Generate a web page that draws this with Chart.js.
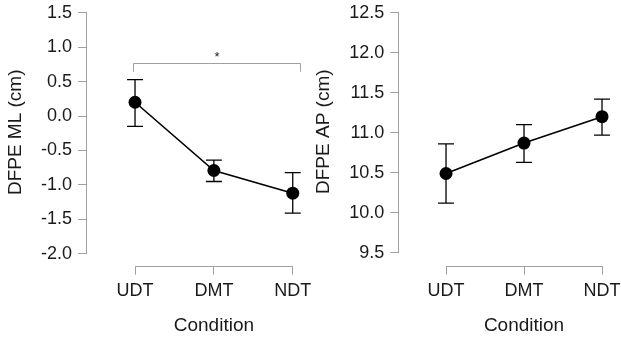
<!DOCTYPE html>
<html>
<head>
<meta charset="utf-8">
<script src="https://cdn.jsdelivr.net/npm/chart.js@4"></script>
<style>
    html, body { margin: 0; padding: 0; background: #fff; }
    #wrap { position: relative; width: 621px; height: 341px; overflow: hidden; }
    .panel { position: absolute; top: 0; height: 341px; }
    #panel-ml { left: 0; width: 330px; }
    #panel-ap { left: 300px; width: 341px; }
</style>
</head>
<body>
<div id="wrap">
    <div class="panel" id="panel-ml"><canvas id="chart-ml"></canvas></div>
    <div class="panel" id="panel-ap"><canvas id="chart-ap"></canvas></div>
</div>
<script>
const conditions = ['UDT', 'DMT', 'NDT'];

const mlMean = [0.20, -0.79, -1.12];
const mlUpper = [0.53, -0.64, -0.82];
const mlLower = [-0.15, -0.95, -1.41];
const mlTicks = [-2.0, -1.5, -1.0, -0.5, 0.0, 0.5, 1.0, 1.5];

const apMean = [10.49, 10.87, 11.20];
const apUpper = [10.86, 11.10, 11.42];
const apLower = [10.12, 10.63, 10.97];
const apTicks = [9.5, 10.0, 10.5, 11.0, 11.5, 12.0, 12.5];

// significance bracket UDT vs NDT
const mlBracket = { from: 0.98, to: 3.09, top: 0.765, end: 0.645, text: '*' };

const axisGray = '#a0a0a0';
const textColor = '#1a1a1a';
const fontFamily = "'Liberation Sans', Arial, sans-serif";

const errorBars = {
    id: 'errorBars',
    beforeDatasetsDraw(chart, args, opts) {
        const { ctx, scales: { x, y } } = chart;
        ctx.save();
        ctx.strokeStyle = '#000';
        ctx.lineWidth = 1.3;
        opts.upper.forEach((hi, i) => {
            const px = x.getPixelForValue(i + 1);
            const top = y.getPixelForValue(hi);
            const bottom = y.getPixelForValue(opts.lower[i]);
            ctx.beginPath();
            ctx.moveTo(px, top);
            ctx.lineTo(px, bottom);
            ctx.moveTo(px - 8, top);
            ctx.lineTo(px + 8, top);
            ctx.moveTo(px - 8, bottom);
            ctx.lineTo(px + 8, bottom);
            ctx.stroke();
        });
        ctx.restore();
    }
};

// axis lines only span first..last tick, titles centred on that span
const axisDecor = {
    id: 'axisDecor',
    afterDraw(chart, args, opts) {
        const { ctx, chartArea, scales: { x, y } } = chart;
        const xa = Math.round(chartArea.left) - 0.5;
        const ya = Math.round(chartArea.bottom) + 0.5;
        const yFirst = y.getPixelForValue(y.ticks[0].value);
        const yLast = y.getPixelForValue(y.ticks[y.ticks.length - 1].value);
        const xFirst = x.getPixelForValue(x.ticks[0].value);
        const xLast = x.getPixelForValue(x.ticks[x.ticks.length - 1].value);
        ctx.save();
        ctx.strokeStyle = axisGray;
        ctx.lineWidth = 1;
        ctx.beginPath();
        ctx.moveTo(xa, yFirst);
        ctx.lineTo(xa, yLast);
        ctx.moveTo(xFirst, ya);
        ctx.lineTo(xLast, ya);
        ctx.stroke();

        ctx.fillStyle = textColor;
        ctx.font = `19px ${fontFamily}`;
        ctx.textAlign = 'center';
        ctx.textBaseline = 'middle';
        ctx.fillText(opts.xTitle, (xFirst + xLast) / 2, opts.xTitleY);
        ctx.translate(opts.yTitleX, (yFirst + yLast) / 2 - 1);
        ctx.rotate(-Math.PI / 2);
        ctx.fillText(opts.yTitle, 0, 0);
        ctx.restore();
    }
};

const bracket = {
    id: 'bracket',
    afterDatasetsDraw(chart, args, opts) {
        const { ctx, scales: { x, y } } = chart;
        const x1 = Math.round(x.getPixelForValue(opts.from)) + 0.5;
        const x2 = Math.round(x.getPixelForValue(opts.to)) + 0.5;
        const yTop = Math.round(y.getPixelForValue(opts.top)) + 0.5;
        const yEnd = y.getPixelForValue(opts.end);
        ctx.save();
        ctx.strokeStyle = axisGray;
        ctx.lineWidth = 1;
        ctx.beginPath();
        ctx.moveTo(x1, yEnd);
        ctx.lineTo(x1, yTop);
        ctx.lineTo(x2, yTop);
        ctx.lineTo(x2, yEnd);
        ctx.stroke();
        ctx.fillStyle = textColor;
        ctx.font = `13px ${fontFamily}`;
        ctx.textAlign = 'center';
        ctx.textBaseline = 'alphabetic';
        ctx.fillText(opts.text, (x1 + x2) / 2, yTop - 3);
        ctx.restore();
    }
};

function buildChart(canvasId, cfg) {
    return new Chart(document.getElementById(canvasId), {
        type: 'line',
        data: {
            datasets: [{
                data: cfg.mean.map((m, i) => ({ x: i + 1, y: m })),
                borderColor: '#000',
                borderWidth: 1.6,
                backgroundColor: '#000',
                pointRadius: 6.5,
                pointBorderWidth: 0,
                pointBackgroundColor: '#000',
                tension: 0
            }]
        },
        options: {
            responsive: true,
            maintainAspectRatio: false,
            animation: false,
            events: [],
            layout: { padding: { top: 12.7, right: cfg.padRight, bottom: 0, left: 0 } },
            plugins: {
                legend: { display: false },
                tooltip: { enabled: false },
                errorBars: { upper: cfg.upper, lower: cfg.lower },
                axisDecor: { xTitle: 'Condition', xTitleY: 325.5, yTitle: cfg.title, yTitleX: cfg.titleX },
                bracket: cfg.bracket || {}
            },
            scales: {
                x: {
                    type: 'linear',
                    min: cfg.xMin,
                    max: cfg.xMax,
                    afterBuildTicks(scale) {
                        scale.ticks = conditions.map((c, i) => ({ value: i + 1 }));
                    },
                    afterFit(scale) {
                        scale.height = 341 - 265.7;
                        scale.paddingLeft = 0;
                        scale.paddingRight = 0;
                    },
                    border: { display: false },
                    grid: { drawOnChartArea: false, drawTicks: true, tickLength: 9, color: axisGray },
                    ticks: {
                        color: textColor,
                        padding: 6,
                        maxRotation: 0,
                        font: { family: fontFamily, size: 18 },
                        callback(value) {
                            return conditions[value - 1];
                        }
                    }
                },
                y: {
                    type: 'linear',
                    min: cfg.yMin,
                    max: cfg.yMax,
                    afterBuildTicks(scale) {
                        scale.ticks = cfg.ticks.map(v => ({ value: v }));
                    },
                    afterFit(scale) {
                        scale.width = cfg.axisX;
                        scale.paddingTop = 0;
                        scale.paddingBottom = 0;
                    },
                    border: { display: false },
                    grid: { drawOnChartArea: false, drawTicks: true, tickLength: 9, color: axisGray },
                    ticks: {
                        color: textColor,
                        padding: 6,
                        font: { family: fontFamily, size: 18 },
                        callback(value) {
                            return value.toFixed(1);
                        }
                    }
                }
            }
        },
        plugins: cfg.bracket ? [errorBars, axisDecor, bracket] : [errorBars, axisDecor]
    });
}

buildChart('chart-ml', {
    mean: mlMean, upper: mlUpper, lower: mlLower, ticks: mlTicks,
    title: 'DFPE ML (cm)', titleX: 15.5,
    yMin: -2.172, yMax: 1.5,
    xMin: 0.391, xMax: 3.219,
    axisX: 87, padRight: 20,
    bracket: mlBracket
});

buildChart('chart-ap', {
    mean: apMean, upper: apUpper, lower: apLower, ticks: apTicks,
    title: 'DFPE AP (cm)', titleX: 24.2,
    yMin: 9.3375, yMax: 12.5,
    xMin: 0.401, xMax: 3.205,
    axisX: 99.3, padRight: 23
});
</script>
</body>
</html>
